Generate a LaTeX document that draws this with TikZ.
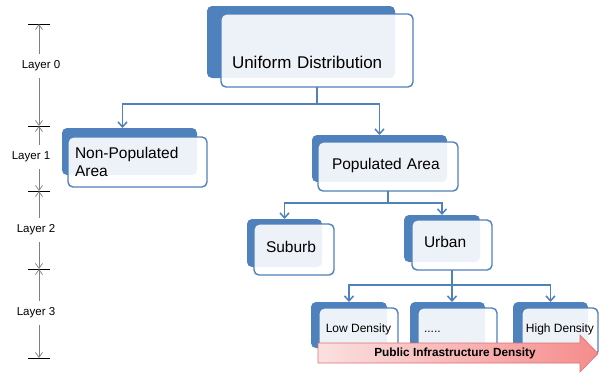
\documentclass[tikz,border=0pt]{standalone}
\usepackage{fontspec}
\setmainfont{Liberation Sans}
\usetikzlibrary{arrows.meta}
\definecolor{officeblue}{HTML}{4F81BD}
\definecolor{scalegray}{HTML}{7F7F7F}
\definecolor{arrowpink}{HTML}{FBE0E0}
\definecolor{arrowred}{HTML}{F68C8C}
\definecolor{arrowedge}{HTML}{E07070}
\tikzset{
  backbox/.style={fill=officeblue, rounded corners=5pt, inner sep=0pt, outer sep=0pt},
  frontbox/.style={draw=officeblue, line width=1.4pt, fill=white, fill opacity=0.9,
    text opacity=1, rounded corners=5pt, inner sep=0pt, outer sep=0pt,
    font=\fontsize{15.5}{17.5}\selectfont, text height=12pt, text depth=7pt},
  leafbox/.style={frontbox, font=\fontsize{12}{14}\selectfont, text height=9pt, text depth=8pt},
  conn/.style={draw=officeblue, line width=1.5pt, -{Straight Barb[length=5pt,width=9pt]}},
  layerlabel/.style={font=\fontsize{11.5}{13}\selectfont, inner xsep=0pt, inner ysep=7pt},
  scalearrow/.style={draw=scalegray, line width=0.7pt, -{Straight Barb[length=5pt,width=7pt]}},
  scaletick/.style={draw=black, line width=0.6pt}
}
\begin{document}
\begin{tikzpicture}[x=1pt,y=-1pt]
  \path[use as bounding box, fill=white] (0,0) rectangle (602,376);

  % back boxes
  \node[backbox, minimum width=188pt, minimum height=72pt] (udback)   at (301,42) {};
  \node[backbox, minimum width=135pt, minimum height=47pt] (npaback)  at (129.5,151.5) {};
  \node[backbox, minimum width=135pt, minimum height=47pt] (paback)   at (379.5,158.5) {};
  \node[backbox, minimum width=75pt,  minimum height=48pt] (subback)  at (284.5,243) {};
  \node[backbox, minimum width=76pt,  minimum height=47pt] (urbback)  at (442,238.5) {};
  \node[backbox, minimum width=76pt,  minimum height=46pt] (lowback)  at (349,325) {};
  \node[backbox, minimum width=75pt,  minimum height=46pt] (dotsback) at (447.5,325) {};
  \node[backbox, minimum width=75pt,  minimum height=46pt] (highback) at (550.5,325) {};

  % front boxes
  \node[frontbox, font=\fontsize{17}{19}\selectfont, minimum height=73pt, align=left,
    text width=170pt, inner xsep=11pt, text height=39pt, text depth=4pt]
    (ud) at (317,50.5) {Uniform Distribution};
  \node[frontbox, minimum height=50pt, align=left, text width=125pt, inner xsep=7pt,
    text height=, text depth=] (npa) at (137.5,162) {Non-Populated\\Area};
  \node[frontbox, minimum height=49pt, align=left, text width=112pt, inner xsep=14pt]
    (pa) at (388,166.5) {Populated Area};
  \node[frontbox, minimum height=51pt, align=left, text width=56pt, inner xsep=12pt]
    (sub) at (294,249.5) {Suburb};
  \node[frontbox, minimum height=50pt, align=left, text width=56pt, inner xsep=12pt]
    (urb) at (452,245) {Urban};
  \node[leafbox, minimum width=79pt, minimum height=48pt] (low)  at (358.5,332) {Low Density};
  \node[leafbox, minimum height=48pt, align=left, text width=67pt, inner xsep=6pt]
    (dots) at (457.5,332) {.....};
  \node[leafbox, minimum width=76pt, minimum height=48pt] (high) at (560,332) {High Density};

  % connectors
  \draw[conn] (ud.south) -- ++(0,17) -| ([xshift=-7pt]npaback.north);
  \draw[conn] (ud.south) -- ++(0,17) -| (paback.north);
  \draw[conn] (pa.south) -- ++(0,12) -| (subback.north);
  \draw[conn] (pa.south) -- ++(0,12) -| (urbback.north);
  \draw[conn] (urb.south) -- ++(0,15) -| (lowback.north);
  \draw[conn] (urb.south) -- (dotsback.north -| urb.south);
  \draw[conn] (urb.south) -- ++(0,15) -| (highback.north);

  % layer scale
  \coordinate (t0) at (39,24);
  \coordinate (t1) at (39,126);
  \coordinate (t2) at (39,191);
  \coordinate (t3) at (39,269);
  \coordinate (t4) at (39,358);
  \foreach \t in {0,...,4}
    \draw[scaletick] ([xshift=-11pt]t\t) -- ([xshift=11pt]t\t);
  \node[layerlabel] (l0) at (41,66)  {Layer 0};
  \node[layerlabel] (l1) at (31,157) {Layer 1};
  \node[layerlabel] (l2) at (36,230) {Layer 2};
  \node[layerlabel] (l3) at (36,313) {Layer 3};
  \draw[scalearrow] (l0.north -| t0) -- (t0);
  \draw[scalearrow] (l0.south -| t0) -- (t1);
  \draw[scalearrow] (l1.north -| t0) -- (t1);
  \draw[scalearrow] (l1.south -| t0) -- (t2);
  \draw[scalearrow] (l2.north -| t0) -- (t2);
  \draw[scalearrow] (l2.south -| t0) -- (t3);
  \draw[scalearrow] (l3.north -| t0) -- (t3);
  \draw[scalearrow] (l3.south -| t0) -- (t4);

  % density arrow
  \path[left color=arrowpink, right color=arrowred, draw=arrowedge, line width=0.6pt]
    (318,343) -- (580,343) -- (580,335) -- (598,353.5) -- (580,372)
    -- (580,363) -- (318,363) -- cycle;
  \node[font=\fontsize{11.8}{13}\selectfont\bfseries] (pid) at (455,353)
    {Public Infrastructure Density};
\end{tikzpicture}
\end{document}
